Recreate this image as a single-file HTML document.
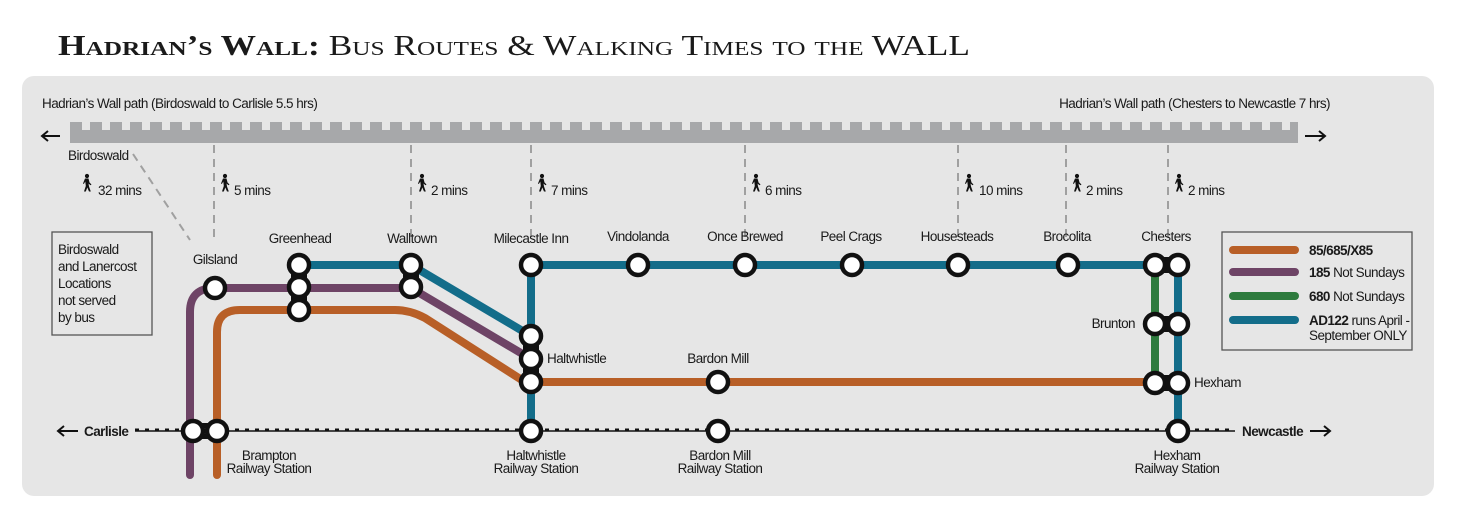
<!DOCTYPE html>
<html><head><meta charset="utf-8"><style>
html,body{margin:0;padding:0;background:#fff;width:1458px;height:522px;overflow:hidden}
svg{display:block}
.t{font-family:"Liberation Sans Narrow","Liberation Sans",sans-serif;font-size:13.5px;letter-spacing:-0.55px;fill:#1a1a1a}
.b{font-weight:bold}
</style></head><body>
<svg width="1458" height="522" viewBox="0 0 1458 522" xmlns="http://www.w3.org/2000/svg">
<defs>
<g id="walker"><circle cx="4" cy="2" r="2.1" fill="#111"/><path d="M2,4.5 L5.5,4.5 L6.5,8.5 L8.5,10.5 L7.5,11.2 L5.5,9.5 L6,12.5 L7.8,17.5 L6,17.5 L4.3,13.5 L2.8,17.5 L1,17.5 L2.8,12 L2.3,7.5 L0.8,10 L0,9.5 Z" fill="#111"/></g>
<g id="n"><circle r="10" fill="#fff" stroke="#111" stroke-width="4.5"/></g>
</defs>
<text x="58" y="55" font-family="'Liberation Serif',serif" font-size="28" fill="#1a1a1a" style="font-variant:small-caps" textLength="912" lengthAdjust="spacingAndGlyphs"><tspan font-weight="bold">Hadrian’s Wall:</tspan> Bus Routes &amp; Walking Times to the WALL</text>
<rect x="22" y="76" width="1412" height="420" rx="12" fill="#e6e6e6"/>
<text class="t" x="42" y="108">Hadrian’s Wall path (Birdoswald to Carlisle 5.5 hrs)</text>
<text class="t" x="1330" y="108" text-anchor="end">Hadrian’s Wall path (Chesters to Newcastle 7 hrs)</text>
<!-- wall -->
<rect x="70" y="130" width="1228" height="13" fill="#a7a8aa"/>
<path d="M70 126 H1298" stroke="#a7a8aa" stroke-width="8" stroke-dasharray="12 8"/>
<path d="M42 136 H60 M48 131 L42 136 L48 141" stroke="#111" stroke-width="2" fill="none"/>
<path d="M1305 136 H1325 M1319 131 L1325 136 L1319 141" stroke="#111" stroke-width="2" fill="none"/>
<text class="t" x="68" y="160">Birdoswald</text>
<g stroke="#a0a0a0" stroke-width="2" stroke-dasharray="8 6" fill="none">
<path d="M133 154 L190 240"/><path d="M214 145 V240"/><path d="M411 145 V240"/><path d="M531 145 V240"/><path d="M745 145 V240"/><path d="M958 145 V240"/><path d="M1066 145 V240"/><path d="M1168 145 V240"/>
</g>
<use href="#walker" x="83" y="174"/><text class="t" x="98" y="195">32 mins</text>
<use href="#walker" x="221" y="174"/><text class="t" x="234" y="195">5 mins</text>
<use href="#walker" x="418" y="174"/><text class="t" x="431" y="195">2 mins</text>
<use href="#walker" x="538" y="174"/><text class="t" x="551" y="195">7 mins</text>
<use href="#walker" x="752" y="174"/><text class="t" x="765" y="195">6 mins</text>
<use href="#walker" x="965" y="174"/><text class="t" x="979" y="195">10 mins</text>
<use href="#walker" x="1073" y="174"/><text class="t" x="1086" y="195">2 mins</text>
<use href="#walker" x="1175" y="174"/><text class="t" x="1188" y="195">2 mins</text>
<!-- note box -->
<rect x="52" y="232" width="100" height="103" fill="none" stroke="#555" stroke-width="1.3"/>
<text class="t" font-size="15" x="58" y="254">Birdoswald</text>
<text class="t" font-size="15" x="58" y="271">and Lanercost</text>
<text class="t" font-size="15" x="58" y="288">Locations</text>
<text class="t" font-size="15" x="58" y="305">not served</text>
<text class="t" font-size="15" x="58" y="322">by bus</text>
<!-- railway -->
<path d="M135 431 H1235" stroke="#111" stroke-width="1.5"/>
<path d="M135 430 H1235" stroke="#111" stroke-width="3" stroke-dasharray="4 6"/>
<path d="M58 431 H78 M64 426 L58 431 L64 436" stroke="#111" stroke-width="2" fill="none"/>
<text class="t b" x="84" y="436">Carlisle</text>
<text class="t b" x="1242" y="436">Newcastle</text>
<path d="M1310 431 H1330 M1324 426 L1330 431 L1324 436" stroke="#111" stroke-width="2" fill="none"/>
<!-- lines -->
<g fill="none" stroke-width="8" stroke-linecap="round" stroke-linejoin="round">
<path d="M190 475 V312 Q190 288 215 288 H411 L531 359" stroke="#6e4466"/>
<path d="M217 475 V332 Q217 310 240 310 H395 Q410 310 425 318 L525 382 H1155" stroke="#b85f27"/>
<path d="M299 265 H411 L531 336" stroke="#136d8a"/>
<path d="M531 431 V265 H1178 V431" stroke="#136d8a"/>
<path d="M1155 265 V383" stroke="#2e7b3e"/>
</g>
<!-- connectors -->
<g stroke="#111" stroke-width="16" stroke-linecap="round">
<path d="M299 265 V310"/><path d="M411 265 V287"/><path d="M531 336 V382"/>
<path d="M193 431 H217"/><path d="M1155 265 H1178"/><path d="M1155 324 H1178"/><path d="M1155 383 H1178"/>
</g>
<g stroke="#fff" stroke-width="6">
<path d="M299 265 V310"/><path d="M411 265 V287"/><path d="M531 336 V382"/>
<path d="M193 431 H217"/><path d="M1155 265 H1178"/><path d="M1155 324 H1178"/><path d="M1155 383 H1178"/>
</g>
<use href="#n" x="215" y="288"/>
<use href="#n" x="299" y="265"/><use href="#n" x="299" y="287"/><use href="#n" x="299" y="310"/>
<use href="#n" x="411" y="265"/><use href="#n" x="411" y="287"/>
<use href="#n" x="531" y="265"/><use href="#n" x="638" y="265"/><use href="#n" x="745" y="265"/><use href="#n" x="852" y="265"/><use href="#n" x="958" y="265"/><use href="#n" x="1068" y="265"/>
<use href="#n" x="1155" y="265"/><use href="#n" x="1178" y="265"/>
<use href="#n" x="1155" y="324"/><use href="#n" x="1178" y="324"/>
<use href="#n" x="1155" y="383"/><use href="#n" x="1178" y="383"/>
<use href="#n" x="531" y="336"/><use href="#n" x="531" y="359"/><use href="#n" x="531" y="382"/>
<use href="#n" x="718" y="382"/>
<use href="#n" x="531" y="431"/><use href="#n" x="718" y="431"/><use href="#n" x="1178" y="431"/>
<use href="#n" x="193" y="431"/><use href="#n" x="217" y="431"/>
<text class="t" x="215" y="264" text-anchor="middle">Gilsland</text>
<text class="t" x="300" y="243" text-anchor="middle">Greenhead</text>
<text class="t" x="412" y="243" text-anchor="middle">Walltown</text>
<text class="t" x="531" y="243" text-anchor="middle">Milecastle Inn</text>
<text class="t" x="638" y="241" text-anchor="middle">Vindolanda</text>
<text class="t" x="745" y="241" text-anchor="middle">Once Brewed</text>
<text class="t" x="851" y="241" text-anchor="middle">Peel Crags</text>
<text class="t" x="957" y="241" text-anchor="middle">Housesteads</text>
<text class="t" x="1067" y="241" text-anchor="middle">Brocolita</text>
<text class="t" x="1166" y="241" text-anchor="middle">Chesters</text>
<text class="t" x="1135" y="328" text-anchor="end">Brunton</text>
<text class="t" x="1194" y="387">Hexham</text>
<text class="t" x="547" y="363">Haltwhistle</text>
<text class="t" x="718" y="363" text-anchor="middle">Bardon Mill</text>
<text class="t" x="269" y="460" text-anchor="middle">Brampton</text>
<text class="t" x="269" y="473" text-anchor="middle">Railway Station</text>
<text class="t" x="536" y="460" text-anchor="middle">Haltwhistle</text>
<text class="t" x="536" y="473" text-anchor="middle">Railway Station</text>
<text class="t" x="720" y="460" text-anchor="middle">Bardon Mill</text>
<text class="t" x="720" y="473" text-anchor="middle">Railway Station</text>
<text class="t" x="1177" y="460" text-anchor="middle">Hexham</text>
<text class="t" x="1177" y="473" text-anchor="middle">Railway Station</text>
<!-- legend -->
<rect x="1222" y="232" width="190" height="118" fill="none" stroke="#555" stroke-width="1.3"/>
<g stroke-width="8" stroke-linecap="round">
<path d="M1233 250 H1295" stroke="#b85f27"/>
<path d="M1233 272 H1295" stroke="#6e4466"/>
<path d="M1233 296 H1295" stroke="#2e7b3e"/>
<path d="M1233 320 H1295" stroke="#136d8a"/>
</g>
<text class="t" x="1309" y="255"><tspan class="b">85/685/X85</tspan></text>
<text class="t" x="1309" y="277"><tspan class="b">185</tspan> Not Sundays</text>
<text class="t" x="1309" y="301"><tspan class="b">680</tspan> Not Sundays</text>
<text class="t" x="1309" y="325"><tspan class="b">AD122</tspan> runs April -</text>
<text class="t" x="1309" y="340">September ONLY</text>
</svg>
</body></html>
